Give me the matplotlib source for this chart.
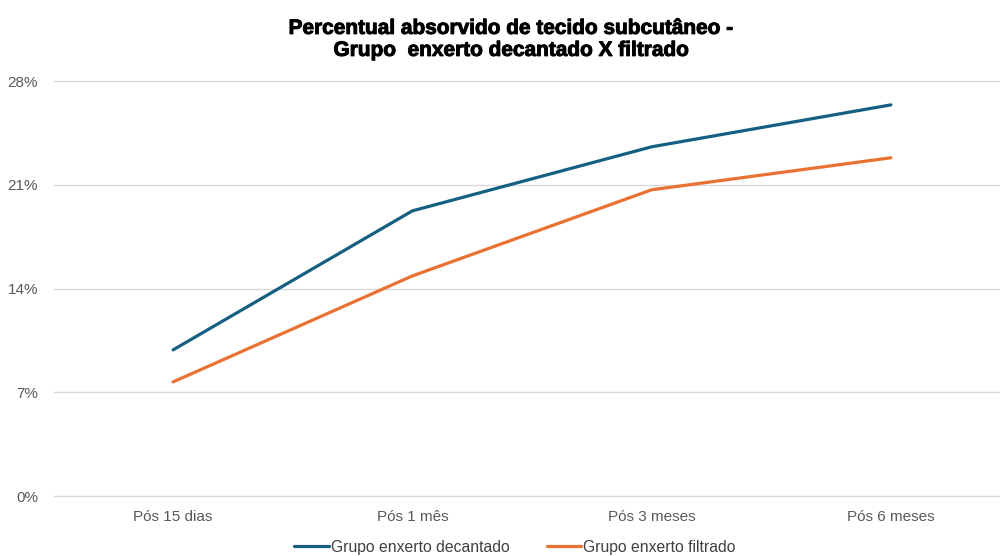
import matplotlib
matplotlib.use("Agg")
import matplotlib.pyplot as plt
import matplotlib.patheffects as pe
from matplotlib.ticker import FuncFormatter

categories = ["Pós 15 dias", "Pós 1 mês", "Pós 3 meses", "Pós 6 meses"]
decantado = [9.86, 19.24, 23.56, 26.39]
filtrado = [7.70, 14.85, 20.66, 22.82]
y_ticks = [0, 7, 14, 21, 28]
series_names = ["Grupo enxerto decantado", "Grupo enxerto filtrado"]
title = "Percentual absorvido de tecido subcutâneo -\nGrupo  enxerto decantado X filtrado"

plt.rcParams["font.family"] = ["Liberation Sans", "DejaVu Sans"]

fig = plt.figure(figsize=(10, 5.56), dpi=100)
ax = fig.add_axes([0.0535, 0.1079, 0.957, 0.7464])

x = list(range(len(categories)))
ax.plot(x, decantado, color="#156082", lw=2.3, solid_capstyle="round",
        label=series_names[0])
ax.plot(x, filtrado, color="#E97132", lw=2.3, solid_capstyle="round",
        label=series_names[1])

ax.set_xlim(-0.5, len(categories) - 0.5)
ax.set_ylim(0, 28)
ax.set_yticks(y_ticks)
ax.yaxis.set_major_formatter(FuncFormatter(lambda v, p: f"{v:.0f}%"))
ax.set_xticks(x)
ax.set_xticklabels(categories)

ax.grid(axis="y", color="#D9D9D9", lw=1.0)
for gl in ax.get_ygridlines():
    gl.set_clip_on(False)
ax.set_axisbelow(True)
for s in ax.spines.values():
    s.set_visible(False)
ax.tick_params(axis="both", length=0, labelsize=11, colors="#595959")
ax.tick_params(axis="x", pad=10)
ax.tick_params(axis="y", pad=11)

fig.text(0.512, 0.966, title, ha="center", va="top", fontsize=15,
         fontweight="bold", color="black", linespacing=1.2,
         path_effects=[pe.withStroke(linewidth=0.7, foreground="black")])

fig.legend(loc="center", bbox_to_anchor=(0.515, 0.016), ncol=2, frameon=False,
           fontsize=11.3, handlelength=2.2, handletextpad=0.1, columnspacing=2.4,
           labelcolor="#404040")

fig.savefig("out.png", dpi=100, facecolor="white")
